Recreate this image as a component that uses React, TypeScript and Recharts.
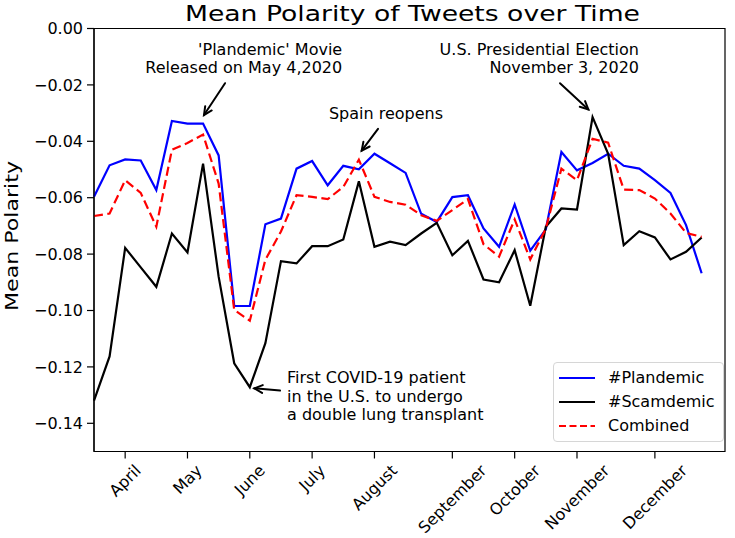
import { LineChart, Line, XAxis, YAxis, Legend, ReferenceArea } from 'recharts'

// weekly mean polarity, mid-March to late December 2020 (one value per week)
const plandemic = [
  -0.0597, -0.0485, -0.0464, -0.0468, -0.0573, -0.0328, -0.0337, -0.0337, -0.045, -0.0984,
  -0.0984, -0.0694, -0.0674, -0.0497, -0.047, -0.0556, -0.0487, -0.0499, -0.0444, -0.0478,
  -0.0512, -0.0657, -0.0686, -0.0598, -0.0591, -0.0709, -0.0774, -0.0624, -0.0788, -0.0712,
  -0.0438, -0.0503, -0.0477, -0.0444, -0.0487, -0.0497, -0.0538, -0.0583, -0.0697, -0.0868,
]
const scamdemic = [
  -0.132, -0.1163, -0.0778, -0.0847, -0.0916, -0.0727, -0.0794, -0.0479, -0.088, -0.1187,
  -0.1272, -0.1116, -0.0825, -0.0833, -0.0772, -0.0772, -0.0748, -0.0542, -0.0774, -0.0756,
  -0.0768, -0.0727, -0.0689, -0.0804, -0.0753, -0.089, -0.09, -0.0786, -0.0983, -0.0703,
  -0.0638, -0.0642, -0.0314, -0.0444, -0.0768, -0.0719, -0.0741, -0.0819, -0.0792, -0.0741,
]
const combined = [
  -0.0665, -0.0656, -0.0538, -0.0583, -0.0703, -0.043, -0.0406, -0.0376, -0.055, -0.0998,
  -0.1036, -0.082, -0.072, -0.0591, -0.0597, -0.0605, -0.0562, -0.0465, -0.0597, -0.0615,
  -0.0625, -0.0662, -0.0682, -0.0644, -0.0605, -0.0765, -0.0809, -0.0677, -0.0819, -0.0709,
  -0.0497, -0.0538, -0.0391, -0.0405, -0.0571, -0.0573, -0.0603, -0.0656, -0.0725, -0.0739,
]

const monthTicks = [2, 6, 10, 14, 18, 23, 27, 31, 36]
const monthNames = ['April', 'May', 'June', 'July', 'August', 'September', 'October', 'November', 'December']
const yTicks = [0, -0.02, -0.04, -0.06, -0.08, -0.1, -0.12, -0.14]

const annotations = [
  { lines: ["'Plandemic' Movie", 'Released on May 4,2020'], at: [15.93, -0.0094], anchor: 'end', tail: [8.41, -0.0194], tip: [7.06, -0.0307] },
  { lines: ['Spain reopens'], at: [15.08, -0.0321], anchor: 'start', tail: [18.23, -0.0356], tip: [17.18, -0.0433] },
  { lines: ['U.S. Presidential Election', 'November 3, 2020'], at: [34.98, -0.0094], anchor: 'end', tail: [29.91, -0.0194], tip: [31.73, -0.0287] },
  { lines: ['First COVID-19 patient', 'in the U.S. to undergo', 'a double lung transplant'], at: [12.39, -0.1258], anchor: 'start', tail: [11.94, -0.1284], tip: [10.29, -0.1276] },
]

const data = plandemic.map((p, i) => ({
  week: i,
  plandemic: p,
  scamdemic: scamdemic[i],
  combined: combined[i],
}))

const FONT = '"DejaVu Sans", sans-serif'
const W = 735
const H = 538
const plot = { left: 94, right: 725, top: 28.5, bottom: 451.5 }
const X_MAX = 40.5
const Y_MIN = -0.15

const px = (i: number) => plot.left + (i / X_MAX) * (plot.right - plot.left)
const py = (v: number) => plot.top + (v / Y_MIN) * (plot.bottom - plot.top)

let ctx: CanvasRenderingContext2D | null = null
function textWidth(s: string, size: number) {
  if (!ctx) ctx = document.createElement('canvas').getContext('2d')
  if (!ctx) return s.length * size * 0.6
  ctx.font = `${size}px "DejaVu Sans"`
  return ctx.measureText(s).width
}

function MonthTick(props: any) {
  const { x, y, payload } = props
  const label = monthNames[monthTicks.indexOf(payload.value)]
  const fs = 16
  const half = ((textWidth(label, fs) + fs * 1.1) * Math.SQRT1_2) / 2
  const cy = y + half
  return (
    <text
      x={x}
      y={cy}
      transform={`rotate(-45 ${x} ${cy})`}
      textAnchor="middle"
      dominantBaseline="central"
      fontSize={fs}
      fontFamily={FONT}
      fill="#000"
    >
      {label}
    </text>
  )
}

const fmtY = (v: number) => (v === 0 ? '0.00' : '\u2212' + Math.abs(v).toFixed(2))

const legendItems = [
  { name: '#Plandemic', color: '#0000ff', dash: undefined },
  { name: '#Scamdemic', color: '#000000', dash: undefined },
  { name: 'Combined', color: '#ff0000', dash: '7 3.5' },
]

function LegendBox() {
  return (
    <div
      style={{
        position: 'relative',
        width: 171,
        height: 80,
        boxSizing: 'border-box',
        border: '1px solid #d6d6d6',
        borderRadius: 4,
        background: 'rgba(255,255,255,0.85)',
        fontFamily: FONT,
        fontSize: 16,
        color: '#000',
      }}
    >
      {legendItems.map((it, k) => (
        <div key={it.name} style={{ position: 'absolute', left: 0, top: 2.5 + k * 24.2, height: 24, width: '100%' }}>
          <svg width={40} height={24} style={{ position: 'absolute', left: 4, top: 0 }}>
            <line x1={1} x2={37} y1={12} y2={12} stroke={it.color} strokeWidth={2.2} strokeDasharray={it.dash} />
          </svg>
          <span style={{ position: 'absolute', left: 54, top: 2, lineHeight: '20px' }}>{it.name}</span>
        </div>
      ))}
    </div>
  )
}

function Arrow({ tail, tip }: { tail: number[]; tip: number[] }) {
  const x1 = px(tail[0]), y1 = py(tail[1])
  const x2 = px(tip[0]), y2 = py(tip[1])
  const a = Math.atan2(y2 - y1, x2 - x1)
  const len = 9
  const spread = 0.45
  const h1 = [x2 - len * Math.cos(a - spread), y2 - len * Math.sin(a - spread)]
  const h2 = [x2 - len * Math.cos(a + spread), y2 - len * Math.sin(a + spread)]
  return (
    <g stroke="#000" strokeWidth={2} fill="none" strokeLinecap="round">
      <line x1={x1} y1={y1} x2={x2} y2={y2} />
      <polyline points={`${h1[0]},${h1[1]} ${x2},${y2} ${h2[0]},${h2[1]}`} />
    </g>
  )
}

export default function App() {
  return (
    <div style={{ position: 'absolute', left: 0, top: 0, width: W, height: H, background: '#fff' }}>
      <LineChart
        width={W}
        height={H}
        data={data}
        margin={{ top: plot.top, right: W - plot.right, bottom: 0, left: 0 }}
      >
        <XAxis
          dataKey="week"
          type="number"
          domain={[0, X_MAX]}
          ticks={monthTicks}
          interval={0}
          height={H - plot.bottom}
          tickSize={7}
          tickMargin={3}
          tick={(p: any) => <MonthTick {...p} />}
          axisLine={{ stroke: '#000', strokeWidth: 1.2 }}
          tickLine={{ stroke: '#000', strokeWidth: 1.2 }}
        />
        <YAxis
          type="number"
          domain={[Y_MIN, 0]}
          ticks={yTicks}
          interval={0}
          width={plot.left}
          tickSize={7}
          tickMargin={4}
          tickFormatter={fmtY}
          tick={{ fontSize: 16, fill: '#000', fontFamily: FONT }}
          axisLine={{ stroke: '#000', strokeWidth: 1.2 }}
          tickLine={{ stroke: '#000', strokeWidth: 1.2 }}
        />
        <ReferenceArea x1={0} x2={X_MAX} y1={Y_MIN} y2={0} fill="none" stroke="#000" strokeWidth={1.2} ifOverflow="visible" />
        <Line type="linear" dataKey="plandemic" name="#Plandemic" stroke="#0000ff" strokeWidth={2.2} dot={false} isAnimationActive={false} />
        <Line type="linear" dataKey="scamdemic" name="#Scamdemic" stroke="#000000" strokeWidth={2.2} dot={false} isAnimationActive={false} />
        <Line type="linear" dataKey="combined" name="Combined" stroke="#ff0000" strokeWidth={2.2} strokeDasharray="9 4.5" dot={false} isAnimationActive={false} />
        <Legend
          layout="horizontal"
          verticalAlign="middle"
          align="center"
          wrapperStyle={{ position: 'absolute', left: 553, top: 362, width: 171, height: 80 }}
          content={() => <LegendBox />}
        />
      </LineChart>
      <svg width={W} height={H} style={{ position: 'absolute', left: 0, top: 0, pointerEvents: 'none' }}>
        <text
          x={(plot.left + plot.right) / 2 + 3}
          y={21}
          textAnchor="middle"
          fontSize={21}
          textLength={455}
          lengthAdjust="spacingAndGlyphs"
          fontFamily={FONT}
          fill="#000"
        >
          Mean Polarity of Tweets over Time
        </text>
        <text
          x={18}
          y={236}
          transform="rotate(-90 18 236)"
          textAnchor="middle"
          fontSize={17}
          textLength={150}
          lengthAdjust="spacingAndGlyphs"
          fontFamily={FONT}
          fill="#000"
        >
          Mean Polarity
        </text>
        {annotations.map((a, k) => (
          <g key={k}>
            <text x={px(a.at[0])} y={py(a.at[1])} textAnchor={a.anchor as any} fontSize={16} fontFamily={FONT} fill="#000">
              {a.lines.map((l, j) => (
                <tspan key={j} x={px(a.at[0])} dy={j === 0 ? 0 : 18.3}>
                  {l}
                </tspan>
              ))}
            </text>
            <Arrow tail={a.tail} tip={a.tip} />
          </g>
        ))}
      </svg>
    </div>
  )
}
